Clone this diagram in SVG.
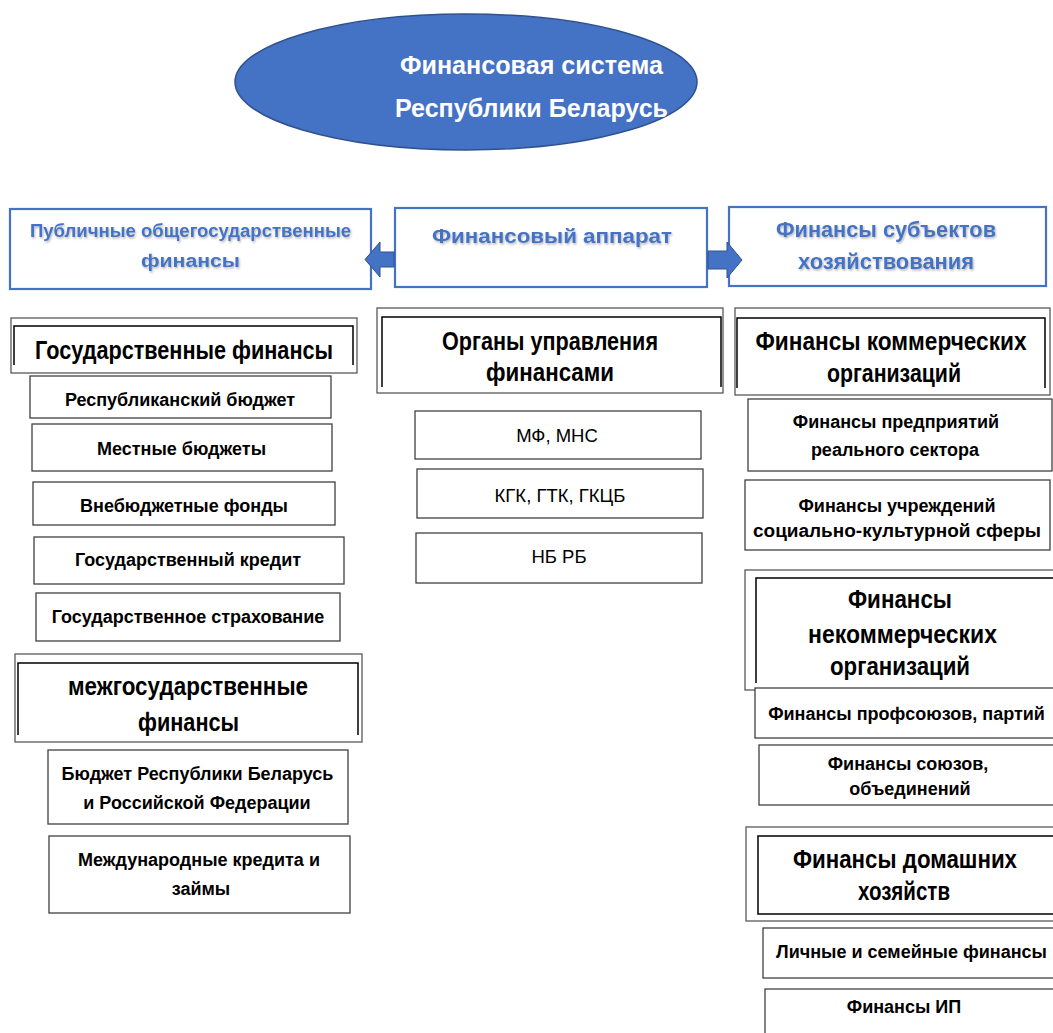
<svg xmlns="http://www.w3.org/2000/svg" width="1053" height="1033" viewBox="0 0 1053 1033">
<defs>
<filter id="sh" x="-5%" y="-20%" width="110%" height="140%">
<feDropShadow dx="1" dy="1.5" stdDeviation="0.8" flood-color="#000" flood-opacity="0.3"/>
</filter>
<style>
text{font-family:"Liberation Sans",Arial,sans-serif;text-anchor:middle}
.title{font-size:25px;font-weight:bold;fill:#fff}
.hdr{font-weight:bold;fill:#4472C4}
.hbox{fill:#fff;stroke:#4472C4;stroke-width:2.2}
.l1{font-size:25px;font-weight:bold;fill:#000}
.sub{font-size:18px;font-weight:bold;fill:#000}
.reg{font-size:18.5px;fill:#000}
.outer{fill:#fff;stroke:#595959;stroke-width:1.3}
.inner{fill:none;stroke:#000;stroke-width:1.5}
.box{fill:#fff;stroke:#404040;stroke-width:1.3}
.arr{fill:#4472C4;stroke:#2F528F;stroke-width:1}
</style>
</defs>
<rect width="1053" height="1033" fill="#fff"/>

<g id="root">
<ellipse cx="466" cy="82" rx="231" ry="68" fill="#4472C4" stroke="#2F528F" stroke-width="1.5"/>
<text class="title" x="531.5" y="74" textLength="263" lengthAdjust="spacingAndGlyphs">Финансовая система</text>
<text class="title" x="531.5" y="117" textLength="273" lengthAdjust="spacingAndGlyphs">Республики Беларусь</text>
</g>

<g id="hdr-public">
<rect class="hbox" x="10" y="209" width="361" height="80"/>
<g filter="url(#sh)">
<text class="hdr" x="190.5" y="237" font-size="18" textLength="321" lengthAdjust="spacingAndGlyphs">Публичные общегосударственные</text>
<text class="hdr" x="190.5" y="267" font-size="18" textLength="99" lengthAdjust="spacingAndGlyphs">финансы</text>
</g>
</g>

<g id="hdr-apparat">
<rect class="hbox" x="395" y="208" width="312" height="79"/>
<g filter="url(#sh)">
<text class="hdr" x="552" y="243" font-size="21" textLength="240" lengthAdjust="spacingAndGlyphs">Финансовый аппарат</text>
</g>
</g>

<g id="hdr-subjects">
<rect class="hbox" x="729" y="207" width="317" height="79"/>
<g filter="url(#sh)">
<text class="hdr" x="886" y="237" font-size="22" textLength="220" lengthAdjust="spacingAndGlyphs">Финансы субъектов</text>
<text class="hdr" x="886" y="269" font-size="22" textLength="176" lengthAdjust="spacingAndGlyphs">хозяйствования</text>
</g>
</g>

<g id="connectors">
<polygon class="arr" points="394,252 380,252 380,242 365,259.5 380,277 380,267 394,267"/>
<polygon class="arr" points="708,251 727,251 727,242 742,260 727,278 727,269 708,269"/>
</g>

<g id="gov-finance">
<rect class="outer" x="11" y="318" width="346" height="55"/>
<polyline class="inner" points="14,365 14,326 353,326 353,365"/>
<text class="l1" x="184" y="359" textLength="298" lengthAdjust="spacingAndGlyphs">Государственные финансы</text>
</g>

<g id="interstate">
<rect class="outer" x="15" y="654" width="347" height="88"/>
<polyline class="inner" points="18,735 18,663 358,663 358,735"/>
<text class="l1" x="188" y="695" textLength="240" lengthAdjust="spacingAndGlyphs">межгосударственные</text>
<text class="l1" x="188.5" y="731" textLength="101" lengthAdjust="spacingAndGlyphs">финансы</text>
</g>

<g id="organs">
<rect class="outer" x="377" y="308" width="346" height="85"/>
<polyline class="inner" points="382,387 382,317 721,317 721,387"/>
<text class="l1" x="550" y="350" textLength="216" lengthAdjust="spacingAndGlyphs">Органы управления</text>
<text class="l1" x="550" y="381" textLength="128" lengthAdjust="spacingAndGlyphs">финансами</text>
</g>

<g id="commercial">
<rect class="outer" x="735" y="308" width="315" height="87"/>
<polyline class="inner" points="737,388 737,318 1045,318 1045,388"/>
<text class="l1" x="891" y="350" font-size="22" textLength="271" lengthAdjust="spacingAndGlyphs">Финансы коммерческих</text>
<text class="l1" x="894" y="382" textLength="134" lengthAdjust="spacingAndGlyphs">организаций</text>
</g>

<g id="noncommercial">
<rect class="outer" x="745" y="570" width="320" height="120"/>
<polyline class="inner" points="756,683 756,578 1065,578"/>
<text class="l1" x="900" y="608" textLength="104" lengthAdjust="spacingAndGlyphs">Финансы</text>
<text class="l1" x="902.5" y="643" textLength="189" lengthAdjust="spacingAndGlyphs">некоммерческих</text>
<text class="l1" x="900" y="675" textLength="140" lengthAdjust="spacingAndGlyphs">организаций</text>
</g>

<g id="households">
<rect class="outer" x="746" y="827" width="320" height="94"/>
<rect class="inner" x="758" y="836" width="310" height="78"/>
<text class="l1" x="905" y="868" textLength="224" lengthAdjust="spacingAndGlyphs">Финансы домашних</text>
<text class="l1" x="904" y="900" textLength="92" lengthAdjust="spacingAndGlyphs">хозяйств</text>
</g>

<g id="rep-budget">
<rect class="box" x="30" y="376" width="301" height="42"/>
<text class="sub" x="180" y="406">Республиканский бюджет</text>
</g>
<g id="local-budgets">
<rect class="box" x="32" y="424" width="300" height="47"/>
<text class="sub" x="181.5" y="455">Местные бюджеты</text>
</g>
<g id="extra-funds">
<rect class="box" x="33" y="482" width="302" height="43"/>
<text class="sub" x="184" y="512">Внебюджетные фонды</text>
</g>
<g id="gov-credit">
<rect class="box" x="34" y="537" width="310" height="47"/>
<text class="sub" x="188" y="566">Государственный кредит</text>
</g>
<g id="gov-insurance">
<rect class="box" x="36" y="593" width="304" height="48"/>
<text class="sub" x="188" y="623">Государственное страхование</text>
</g>
<g id="union-budget">
<rect class="box" x="48" y="750" width="300" height="74"/>
<text class="sub" x="197.5" y="780">Бюджет Республики Беларусь</text>
<text class="sub" x="197" y="809">и Российской Федерации</text>
</g>
<g id="intl-credits">
<rect class="box" x="49" y="836" width="301" height="77"/>
<text class="sub" x="199" y="866">Международные кредита и</text>
<text class="sub" x="201" y="895">займы</text>
</g>

<g id="mf-mns">
<rect class="box" x="415" y="411" width="286" height="48"/>
<text class="reg" x="557" y="442">МФ, МНС</text>
</g>
<g id="kgk">
<rect class="box" x="417" y="469" width="286" height="49"/>
<text class="reg" x="560" y="502">КГК, ГТК, ГКЦБ</text>
</g>
<g id="nb-rb">
<rect class="box" x="416" y="533" width="286" height="50"/>
<text class="reg" x="559" y="563">НБ РБ</text>
</g>

<g id="real-sector">
<rect class="box" x="748" y="399" width="304" height="72"/>
<text class="sub" x="896" y="428">Финансы предприятий</text>
<text class="sub" x="895" y="456">реального сектора</text>
</g>
<g id="social-sphere">
<rect class="box" x="745" y="480" width="305" height="70"/>
<text class="sub" x="897" y="512">Финансы учреждений</text>
<text class="sub" x="897" y="537" textLength="288" lengthAdjust="spacingAndGlyphs">социально-культурной сферы</text>
</g>
<g id="unions-parties">
<rect class="box" x="755" y="688" width="310" height="50"/>
<text class="sub" x="906.5" y="720" font-size="17.5">Финансы профсоюзов, партий</text>
</g>
<g id="unions-assoc">
<rect class="box" x="759" y="745" width="306" height="60"/>
<text class="sub" x="908" y="770">Финансы союзов,</text>
<text class="sub" x="910" y="795">объединений</text>
</g>
<g id="personal">
<rect class="box" x="763" y="928" width="302" height="50"/>
<text class="sub" x="911.5" y="958">Личные и семейные финансы</text>
</g>
<g id="ip">
<rect class="box" x="765" y="989" width="300" height="60"/>
<text class="sub" x="904" y="1013">Финансы ИП</text>
</g>
</svg>
